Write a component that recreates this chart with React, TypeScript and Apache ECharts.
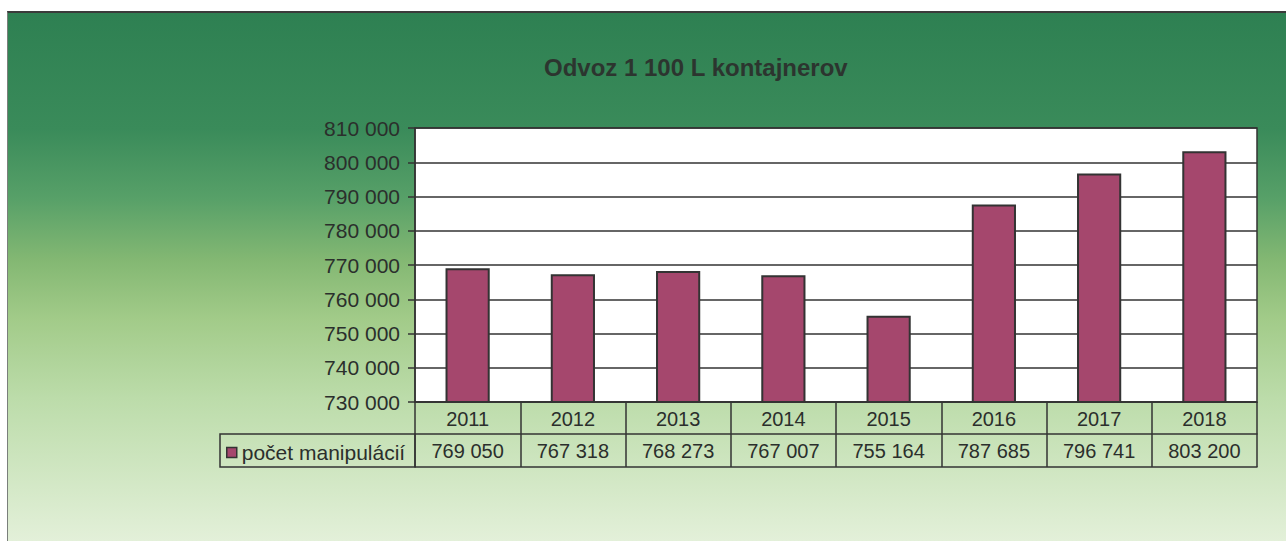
import React, { useEffect, useRef } from "react";
import * as echarts from "echarts";

const TITLE = "Odvoz 1 100 L kontajnerov";
const SERIES_NAME = "počet manipulácií";
const years = ["2011", "2012", "2013", "2014", "2015", "2016", "2017", "2018"];
const values = [769050, 767318, 768273, 767007, 755164, 787685, 796741, 803200];
const Y_MIN = 730000;
const Y_MAX = 810000;
const Y_STEP = 10000;

const fmt = (v: number) => String(Math.round(v)).replace(/\B(?=(\d{3})+(?!\d))/g, " ");

const LINE = "#333";
const TXT = "#2b2f2c";
const FONT = "'Liberation Sans', Arial, sans-serif";

export default function App() {
  const ref = useRef<HTMLDivElement>(null);
  useEffect(() => {
    if (!ref.current) return;
    const chart = echarts.init(ref.current, undefined, { renderer: "svg" });
    const gridLeft = 407;
    const gridRight = 30;
    const gridTop = 115;
    const gridBottom = 139;
    chart.setOption({
      animation: false,
      backgroundColor: {
        type: "linear",
        x: 0,
        y: 0,
        x2: 0,
        y2: 1,
        colorStops: [
          { offset: 0, color: "#2e8052" },
          { offset: 0.22, color: "#3a8b5a" },
          { offset: 0.35, color: "#57a068" },
          { offset: 0.47, color: "#84b873" },
          { offset: 0.58, color: "#a2cb89" },
          { offset: 0.73, color: "#bcdcaa" },
          { offset: 1, color: "#e3f0d9" },
        ],
      },
      textStyle: { fontFamily: FONT },
      title: {
        text: TITLE,
        left: 531,
        top: 37,
        textStyle: { fontSize: 24, fontWeight: "bold", color: "#2c352f", fontFamily: FONT },
      },
      legend: {
        left: 213,
        top: 424,
        itemWidth: 10,
        itemHeight: 10,
        icon: "rect",
        itemStyle: { color: "#a5476d", borderColor: "#333", borderWidth: 1.5 },
        textStyle: { fontSize: 21, color: TXT, fontFamily: FONT },
        data: [SERIES_NAME],
      },
      graphic: [
        {
          type: "rect",
          shape: { x: 212, y: gridTop + (528 - gridTop - gridBottom) + 32, width: gridLeft - 212, height: 33 },
          style: { fill: "none", stroke: LINE, lineWidth: 1.5 },
          silent: true,
        },
      ],
      grid: {
        left: gridLeft,
        right: gridRight,
        top: gridTop,
        bottom: gridBottom,
        show: true,
        backgroundColor: "#ffffff",
        borderColor: LINE,
        borderWidth: 1.5,
        containLabel: false,
      },
      xAxis: [
        {
          type: "category",
          data: years,
          position: "bottom",
          boundaryGap: true,
          axisLine: { show: true, lineStyle: { color: LINE, width: 1.5 } },
          axisTick: { show: true, interval: 0, length: 65, alignWithLabel: false, lineStyle: { color: LINE, width: 1.5 } },
          axisLabel: { fontSize: 20, color: TXT, margin: 7, lineHeight: 20, interval: 0, fontFamily: FONT },
          splitLine: { show: false },
        },
        {
          type: "category",
          data: years,
          position: "bottom",
          offset: 32,
          boundaryGap: true,
          axisLine: { show: true, lineStyle: { color: LINE, width: 1.5 } },
          axisTick: { show: false },
          axisLabel: {
            fontSize: 20,
            color: TXT,
            margin: 7,
            lineHeight: 20,
            interval: 0,
            fontFamily: FONT,
            formatter: (_v: string, i: number) => fmt(values[i]),
          },
        },
        {
          type: "category",
          data: years,
          position: "bottom",
          offset: 65,
          axisLine: { show: true, lineStyle: { color: LINE, width: 1.5 } },
          axisTick: { show: false },
          axisLabel: { show: false },
        },
      ],
      yAxis: {
        type: "value",
        min: Y_MIN,
        max: Y_MAX,
        interval: Y_STEP,
        axisLine: { show: true, lineStyle: { color: LINE, width: 1.5 } },
        axisTick: { show: true, length: 7, lineStyle: { color: LINE, width: 1.5 } },
        axisLabel: { fontSize: 21, color: TXT, margin: 15, fontFamily: FONT, formatter: (v: number) => fmt(v) },
        splitLine: { show: true, lineStyle: { color: LINE, width: 1.5 } },
      },
      series: [
        {
          name: SERIES_NAME,
          type: "bar",
          xAxisIndex: 0,
          data: values,
          barWidth: "42%",
          itemStyle: { color: "#a5476d", borderColor: "#333", borderWidth: 2 },
        },
      ],
    });
    return () => chart.dispose();
  }, []);
  return (
    <div
      style={{
        position: "absolute",
        left: 7,
        top: 11,
        borderTop: "2px solid #3a3a3a",
        borderLeft: "1px solid #7a7f7b",
      }}
    >
      <div ref={ref} style={{ width: 1279, height: 528 }} />
    </div>
  );
}
